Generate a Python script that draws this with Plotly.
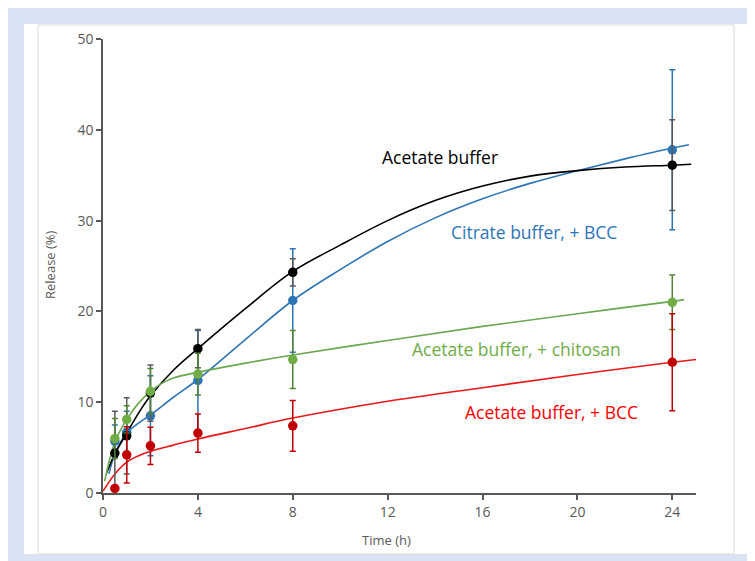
import plotly.graph_objects as go

# ---- measured points ----
times = [0.5, 1, 2, 4, 8, 24]

acetate = [4.4, 6.3, 11.0, 15.9, 24.3, 36.1]
acetate_err = [4.6, 4.2, 3.1, 2.1, 1.5, 5.0]

citrate_bcc = [5.7, 6.7, 8.5, 12.4, 21.2, 37.8]
citrate_bcc_err = [1.8, 2.3, 4.4, 5.5, 5.7, 8.8]

chitosan = [6.0, 8.1, 11.2, 13.1, 14.7, 21.0]
chitosan_err = [2.2, 1.5, 2.5, 2.3, 3.2, 3.0]

acetate_bcc = [0.5, 4.2, 5.2, 6.6, 7.4, 14.4]
acetate_bcc_err = [0.0, 3.1, 2.05, 2.1, 2.8, 5.35]

# ---- fitted curves ----
fit_acetate_x = [0.15, 0.5, 1, 1.5, 2, 3, 4, 6, 8, 10, 12, 14, 16, 18, 20, 22, 24, 24.8]
fit_acetate_y = [2.2, 4.3, 6.6, 8.8, 10.7, 13.6, 15.9, 20.3, 24.4, 27.3, 30.0, 32.2, 33.8, 34.9, 35.5, 35.9, 36.1, 36.2]

fit_citrate_x = [0.25, 0.5, 1, 1.5, 2, 3, 4, 6, 8, 10, 12, 14, 16, 18, 20, 22, 24, 24.7]
fit_citrate_y = [2.1, 4.3, 6.6, 7.7, 8.6, 10.6, 12.5, 16.9, 21.2, 24.6, 27.7, 30.3, 32.4, 34.1, 35.5, 36.8, 38.0, 38.35]

fit_chitosan_x = [0.07, 0.5, 1, 1.5, 2, 2.5, 3, 4, 6, 8, 12, 16, 20, 24, 24.5]
fit_chitosan_y = [1.3, 5.6, 8.1, 9.9, 11.2, 12.1, 12.7, 13.3, 14.3, 15.2, 16.8, 18.35, 19.75, 21.1, 21.3]

fit_acbcc_x = [0, 0.25, 0.5, 1, 1.5, 2, 3, 4, 6, 8, 12, 16, 20, 24, 25]
fit_acbcc_y = [0.2, 1.2, 2.1, 3.4, 4.1, 4.6, 5.3, 5.95, 7.1, 8.25, 10.1, 11.6, 13.05, 14.4, 14.7]

x_ticks = [0, 4, 8, 12, 16, 20, 24]
y_ticks = [0, 10, 20, 30, 40, 50]

labels = ["Acetate buffer", "Citrate buffer, + BCC", "Acetate buffer, + chitosan", "Acetate buffer, + BCC"]
label_x = [14.2, 18.15, 17.45, 18.9]
label_y = [37.0, 28.8, 15.9, 8.9]
label_colors = ["#000000", "#2e75b6", "#70ad47", "#ff0000"]

W, H = 755, 561
ML, MR, MT, MB = 95, 67, 31, 76
PW, PH = W - ML - MR, H - MT - MB


def px(x):
    return (x - ML) / PW


def py(y):
    return (H - MB - y) / PH


fig = go.Figure()

series = [
    (fit_citrate_x, fit_citrate_y, citrate_bcc, citrate_bcc_err, "#2e75b6", "#2e75b6", "#2e75b6"),
    (fit_acetate_x, fit_acetate_y, acetate, acetate_err, "#000000", "#000000", "#595959"),
    (fit_chitosan_x, fit_chitosan_y, chitosan, chitosan_err, "#6aa84f", "#70ad47", "#548235"),
    (fit_acbcc_x, fit_acbcc_y, acetate_bcc, acetate_bcc_err, "#e81818", "#c00000", "#c00000"),
]

for fx, fy, _, _, lc, _, _ in series:
    fig.add_trace(go.Scatter(x=fx, y=fy, mode="lines", line=dict(color=lc, width=1.6, shape="spline", smoothing=1.0),
                             showlegend=False, hoverinfo="skip"))

for _, _, vals, errs, _, mc, ec in series:
    fig.add_trace(go.Scatter(x=times, y=vals, mode="markers",
                             marker=dict(color=mc, size=9.5),
                             error_y=dict(type="data", array=errs, visible=True, color=ec, thickness=1.5, width=3),
                             showlegend=False))

shapes = [
    dict(type="rect", xref="paper", yref="paper", x0=px(16), x1=px(744), y0=py(546), y1=py(16),
         fillcolor="#ffffff", line=dict(width=0), layer="below"),
    dict(type="rect", xref="paper", yref="paper", x0=px(30), x1=px(726), y0=py(546), y1=py(17),
         fillcolor="rgba(0,0,0,0)", line=dict(color="#d9d9d9", width=1), layer="below"),
]

annotations = []
for t, x, y, c in zip(labels, label_x, label_y, label_colors):
    annotations.append(dict(x=x, y=y, xref="x", yref="y", text=t, showarrow=False,
                            xanchor="center", yanchor="middle",
                            font=dict(family="Open Sans", size=17.5, color=c)))
annotations.append(dict(x=px(378), y=py(532), xref="paper", yref="paper", text="Time (h)", showarrow=False,
                        xanchor="center", yanchor="middle",
                        font=dict(family="Open Sans", size=13, color="#595959")))
annotations.append(dict(x=px(42), y=py(257), xref="paper", yref="paper", text="Release (%)", showarrow=False,
                        xanchor="center", yanchor="middle",
                        textangle=-90, font=dict(family="Open Sans", size=13, color="#595959")))

axis_common = dict(showgrid=False, zeroline=False, showline=True, linecolor="#595959", linewidth=1.5,
                   ticks="outside", ticklen=5, tickcolor="#595959", tickwidth=1.5,
                   tickfont=dict(family="Open Sans", size=14, color="#595959"))

fig.update_layout(
    width=W, height=H,
    margin=dict(l=ML, r=MR, t=MT, b=MB, pad=0),
    paper_bgcolor="#dae3f3", plot_bgcolor="rgba(0,0,0,0)",
    xaxis=dict(range=[0, 25], tickvals=x_ticks, ticktext=[str(v) for v in x_ticks], **axis_common),
    yaxis=dict(range=[0, 50], tickvals=y_ticks, ticktext=[str(v) for v in y_ticks], **axis_common),
    shapes=shapes, annotations=annotations, showlegend=False,
)

fig.write_html("out.html")
